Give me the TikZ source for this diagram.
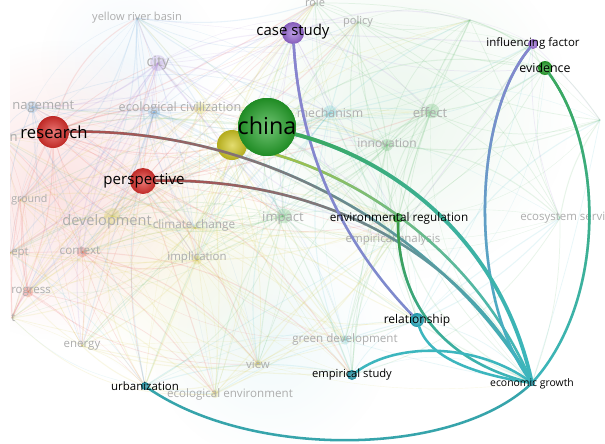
\documentclass[tikz,border=0pt]{standalone}
\usepackage{fontspec}
\setmainfont{Open Sans}
\usetikzlibrary{fadings}

% cluster colours
\definecolor{clred}{HTML}{E8504A}
\definecolor{clgreen}{HTML}{5DB86A}
\definecolor{clblue}{HTML}{6AAADC}
\definecolor{clyellow}{HTML}{D8CB4A}
\definecolor{clpurple}{HTML}{A784D8}
\definecolor{clcyan}{HTML}{5CC4D2}
% bubble colours
\definecolor{nred}{HTML}{E0302C}
\definecolor{ngreen}{HTML}{25A42A}
\definecolor{nyellow}{HTML}{D4CA22}
\definecolor{npurple}{HTML}{9B6BD8}
\definecolor{ncyan}{HTML}{25B0C4}
\definecolor{nteal}{HTML}{1F9AAE}
% link colours
\definecolor{eteal}{HTML}{3CB6BE}
\definecolor{ered}{HTML}{B24A48}
\definecolor{eyel}{HTML}{B2C23A}
\definecolor{egreen}{HTML}{3DA85A}
\definecolor{egreentwo}{HTML}{3C9A40}
\definecolor{eblue}{HTML}{8A84CF}
\definecolor{fainttext}{HTML}{ADADAD}

\tikzfading[name=toeast, left color=transparent!0, right color=transparent!100]
\tikzfading[name=tosouth, top color=transparent!0, middle color=transparent!15, bottom color=transparent!100]
\tikzfading[name=softspot, inner color=transparent!0, outer color=transparent!100]

\tikzset{
  bub/.style args={#1/#2}{circle, inner sep=0pt, minimum size=#2,
    inner color=#1!65!white, outer color=#1!85!black},
  fbub/.style args={#1/#2}{circle, inner sep=0pt, minimum size=#2,
    fill=#1, opacity=0.25},
  lab/.style={font=\fontsize{#1}{#1}\selectfont, text=black, inner sep=0pt},
  faint/.style={font=\fontsize{#1}{#1}\selectfont, text=fainttext, inner sep=0pt},
  edge/.style={line width=1.9pt, line cap=round},
}

\begin{document}
\begin{tikzpicture}[x=0.75pt,y=-0.75pt]
\useasboundingbox (0,0) rectangle (605,443);
\fill[white] (0,0) rectangle (605,443);
\clip (10,0) rectangle (605,443);

% soft cluster haze
\fill[clred!45, opacity=0.35, path fading=softspot] (60,190) circle (150);
\fill[clgreen!45, opacity=0.25, path fading=softspot] (400,110) circle (170);
\fill[clyellow!45, opacity=0.25, path fading=softspot] (190,270) circle (120);
\fill[clcyan!40, opacity=0.22, path fading=softspot] (270,340) circle (120);
\fill[clblue!40, opacity=0.18, path fading=softspot] (130,60) circle (90);

% faint background network
\def\anchors{53/132/clred, 143/181/clred, 267/127/clgreen, 232/145/clyellow,
  293/33/clpurple, 158/63/clpurple, 137/18/clblue, 32/107/clblue,
  154/112/clblue, 200/108/clyellow, 330/113/clcyan, 431/112/clgreen,
  387/145/clgreen, 283/216/clgreen, 112/216/clyellow, 195/228/clyellow,
  82/252/clred, 197/260/clyellow, 28/292/clred, 82/346/clyellow,
  258/364/clyellow, 345/340/clcyan, 145/386/clcyan, 215/394/clyellow,
  417/320/clcyan, 398/218/clgreen, 358/22/clgreen, 315/3/clgreen,
  545/68/clgreen, 533/44/clpurple, 560/218/clgreen, 393/240/clgreen,
  352/375/clcyan, 20/200/clred, 10/253/clred, 532/383/clcyan,
  12/318/clred, 2/138/clred, 470/20/clgreen, 600/120/clgreen}
\foreach \ax/\ay/\ac [count=\i] in \anchors {
  \coordinate (bg\i) at (\ax,\ay);
}
\foreach \ax/\ay/\ac [count=\i] in \anchors {
  \foreach \bx/\by/\bc [count=\j] in \anchors {
    \ifnum\j>\i
      \pgfmathsetmacro\dd{veclen(\bx-\ax,\by-\ay)}
      \ifdim\dd pt<300pt
        \pgfmathtruncatemacro\bnd{mod(\i*7+\j*13,50)-25}
        \pgfmathsetmacro\lw{0.3+0.25*mod(\i+\j,3)}
        \draw[\ac, opacity=0.14, line width=\lw pt] (bg\i) to[bend left=\bnd] (bg\j);
      \fi
    \fi
  }
}

% faint bubbles
\node[fbub=clpurple/12pt] (fcity) at (158,63) {};
\node[fbub=clblue/9pt] (fmgmt) at (32,107) {};
\node[fbub=clblue/9pt] (fciv) at (154,112) {};
\node[fbub=clyellow/9pt] (fciv2) at (200,108) {};
\node[fbub=clcyan/10pt] (fmech) at (330,112) {};
\node[fbub=clgreen/11pt] (feff) at (432,111) {};
\node[fbub=clgreen/9pt] (finn) at (387,145) {};
\node[fbub=clgreen/11pt] (fimp) at (284,216) {};
\node[fbub=clyellow/12pt] (fdev) at (112,216) {};
\node[fbub=clred/8pt] (fctx) at (82,252) {};
\node[fbub=clred/8pt] (fprog) at (28,292) {};
\node[fbub=clyellow/7pt] (fimpl) at (197,260) {};
\node[fbub=clyellow/6pt] (fview) at (258,364) {};
\node[fbub=clcyan/7pt] (fgd) at (345,340) {};
\node[fbub=clyellow/6pt] (feco) at (215,394) {};

% faint labels
\node[faint=8.3pt] (tyrb) at (137,18) {yellow river basin};
\node[faint=8.3pt] (trole) at (315,2) {role};
\node[faint=8.3pt] (tpol) at (358,22) {policy};
\node[faint=10.7pt] (tcity) at (158,63) {city};
\node[faint=9.8pt, anchor=west] (tmgmt) at (12,107) {nagement};
\node[faint=9.5pt] (tciv) at (180,108) {ecological civilization};
\node[faint=9.8pt, anchor=east] (tn) at (18,138) {n};
\node[faint=9.2pt] (tmech) at (330,113) {mechanism};
\node[faint=9.8pt] (teff) at (430,113) {effect};
\node[faint=9pt] (tinn) at (387,143) {innovation};
\node[faint=8pt, anchor=west] (tgrd) at (11,200) {ground};
\node[faint=10.9pt] (tdev) at (107,222) {development};
\node[faint=8.8pt] (tcc) at (194,225) {climate change};
\node[faint=9.8pt] (timp) at (283,218) {impact};
\node[faint=8.6pt, anchor=west] (tept) at (11,253) {ept};
\node[faint=8.8pt] (tctx) at (80,251) {context};
\node[faint=8.6pt] (timpl) at (197,258) {implication};
\node[faint=8.6pt, anchor=west] (tprog) at (11,292) {rogress};
\node[faint=8.6pt, anchor=west] (tt) at (11,318) {t};
\node[faint=8.6pt] (tene) at (82,346) {energy};
\node[faint=8.6pt] (tview) at (258,364) {view};
\node[faint=8.7pt] (tgd) at (345,339) {green development};
\node[faint=8.6pt] (tea) at (393,240) {empirical analysis};
\node[faint=8.6pt, anchor=west] (tes) at (520,218) {ecosystem servic};
\node[faint=8.7pt] (tee) at (230,394) {ecological environment};

% bubbles of the highlighted items
\node[bub=nred/24pt] (research) at (53,132) {};
\node[bub=nyellow/22.5pt] (yel) at (232,145) {};
\node[bub=nred/19.5pt] (persp) at (143,181) {};
\node[bub=npurple/16.5pt] (case) at (293,33) {};
\node[bub=npurple/7.5pt] (infl) at (533,44) {};
\node[bub=ngreen/10.5pt] (evid) at (545,68) {};
\node[bub=ngreen/7.5pt] (envreg) at (398,218) {};
\node[bub=ncyan/10.5pt] (relat) at (417,320) {};
\node[bub=nteal/7.5pt] (empst) at (352,375) {};
\node[bub=ncyan/4.5pt] (econ) at (532,383) {};
\node[bub=nteal/6pt] (urban) at (145,386) {};

% links to economic growth
\draw[edge, eteal] (research) .. controls (260,128) and (440,230) .. (econ);
\draw[edge, ered, path fading=toeast] (research) .. controls (260,128) and (440,230) .. (econ);
\draw[edge, eteal] (persp) .. controls (300,178) and (450,235) .. (econ);
\draw[edge, ered, path fading=toeast] (persp) .. controls (300,178) and (450,235) .. (econ);
\draw[edge, eteal] (yel) .. controls (340,165) and (470,240) .. (econ);
\draw[edge, eyel, path fading=toeast] (yel) .. controls (340,165) and (470,240) .. (econ);
\draw[edge, eblue!85!eteal] (case) .. controls (300,150) and (340,240) .. (relat);
\draw[edge, eblue, path fading=tosouth] (case) .. controls (300,150) and (340,240) .. (relat);
\draw[edge, eteal] (infl) .. controls (470,120) and (470,300) .. (econ);
\draw[edge, eblue, path fading=tosouth] (infl) .. controls (470,120) and (470,300) .. (econ);
\draw[edge, eteal] (evid) .. controls (605,150) and (605,300) .. (econ);
\draw[edge, egreen, path fading=tosouth] (evid) .. controls (605,150) and (605,300) .. (econ);
\draw[edge, eteal] (envreg) .. controls (398,300) and (440,360) .. (econ);
\draw[edge, egreentwo, path fading=tosouth] (envreg) .. controls (398,300) and (440,360) .. (econ);
\draw[edge, eteal] (relat) .. controls (430,360) and (480,375) .. (econ);
\draw[edge, eteal] (empst) .. controls (400,340) and (480,345) .. (econ);
\draw[edge, eteal!90!black] (urban) .. controls (250,458) and (450,458) .. (econ);

\node[bub=ngreen/43.5pt] (china) at (267,127) {};
\draw[edge, line width=2.8pt, eteal] (china) .. controls (395,160) and (500,240) .. (econ);
\draw[edge, line width=2.8pt, egreen, path fading=toeast] (china) .. controls (395,160) and (500,240) .. (econ);
\node[bub=ngreen/43.5pt] (chinatop) at (267,127) {};
\node[bub=ncyan/4.5pt] (econtop) at (532,383) {};

% labels of the highlighted items
\node[lab=12.5pt] (research-l) at (54,132) {research};
\node[lab=17.5pt] (china-l) at (267,126) {china};
\node[lab=11.3pt] (persp-l) at (144,181) {perspective};
\node[lab=11.2pt] (case-l) at (293,32) {case study};
\node[lab=8.6pt] (infl-l) at (533,43) {influencing factor};
\node[lab=9.3pt] (evid-l) at (545,68) {evidence};
\node[lab=8.8pt] (envreg-l) at (399,218) {environmental regulation};
\node[lab=9pt] (relat-l) at (417,320) {relationship};
\node[lab=8.4pt] (empst-l) at (352,375) {empirical study};
\node[lab=7.8pt] (econ-l) at (532,384) {economic growth};
\node[lab=8.6pt] (urban-l) at (145,386) {urbanization};
\end{tikzpicture}
\end{document}
